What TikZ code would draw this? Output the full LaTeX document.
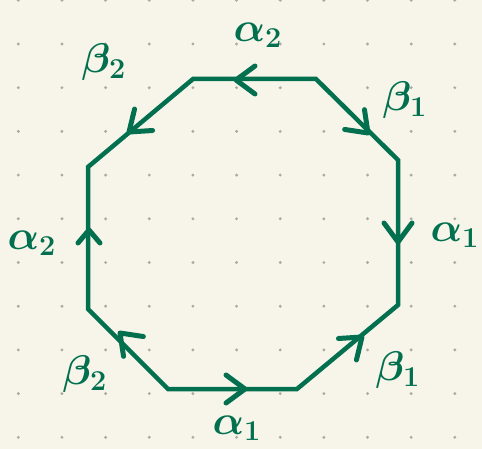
\documentclass[tikz,border=0pt]{standalone}
\usepackage{bm}
\definecolor{paper}{HTML}{F7F5EA}
\definecolor{ink}{HTML}{02704F}
\definecolor{dotc}{HTML}{ACA9A2}
\tikzset{
  edge/.style={draw=ink, line width=4.5pt, line join=miter},
  arrowstroke/.style={draw=ink, line width=5pt, line cap=round, line join=round},
  chev/.pic={\draw[arrowstroke] (-19,14) -- (0,0) -- (-19,-14);},
  chevs/.pic={\draw[arrowstroke] (-13,11) -- (0,0) -- (-13,-11);},
  lab/.style={text=ink, font=\huge, inner sep=0pt, scale=2, transform shape}
}
\begin{document}
\begin{tikzpicture}[x=1pt,y=1pt]
\fill[paper] (0,0) rectangle (482,-449);
\useasboundingbox (0,0) rectangle (482,-449);
% dot grid
\foreach \i in {0,...,10} {
  \foreach \j in {0,...,10} {
    \fill[dotc] (18.3+43.65*\i, -0.3-43.7*\j) circle (1.6);
  }
}
% vertices
\coordinate (A) at (193,-79);
\coordinate (B) at (316,-79);
\coordinate (C) at (398,-160);
\coordinate (D) at (398,-305);
\coordinate (E) at (297,-389);
\coordinate (F) at (168,-389);
\coordinate (G) at (88,-309);
\coordinate (H) at (88,-167);
\draw[edge] (A) -- (B) -- (C) -- (D) -- (E) -- (F) -- (G) -- (H) -- cycle;
% arrows
\pic[rotate=180] at (236,-80) {chev};
\pic[rotate=220] at (129,-132) {chev};
\pic[rotate=90] at (89,-230) {chevs};
\pic[rotate=135] at (120,-333) {chev};
\pic[rotate=0] at (245,-389) {chev};
\pic[rotate=40] at (362,-337) {chev};
\pic[rotate=270] at (398,-242) {chev};
\pic[rotate=-45] at (368,-133) {chev};
% labels
\node[lab] (la2t) at (258,-35) {$\bm{\alpha}_{\bm{2}}$};
\node[lab] (lb2t) at (104,-62) {$\bm{\beta}_{\bm{2}}$};
\node[lab] (lb1t) at (405,-100) {$\bm{\beta}_{\bm{1}}$};
\node[lab] (la1r) at (455,-235) {$\bm{\alpha}_{\bm{1}}$};
\node[lab] (la2l) at (32,-243) {$\bm{\alpha}_{\bm{2}}$};
\node[lab] (lb2b) at (85,-374) {$\bm{\beta}_{\bm{2}}$};
\node[lab] (lb1b) at (398,-370) {$\bm{\beta}_{\bm{1}}$};
\node[lab] (la1b) at (237,-428) {$\bm{\alpha}_{\bm{1}}$};
\end{tikzpicture}
\end{document}
